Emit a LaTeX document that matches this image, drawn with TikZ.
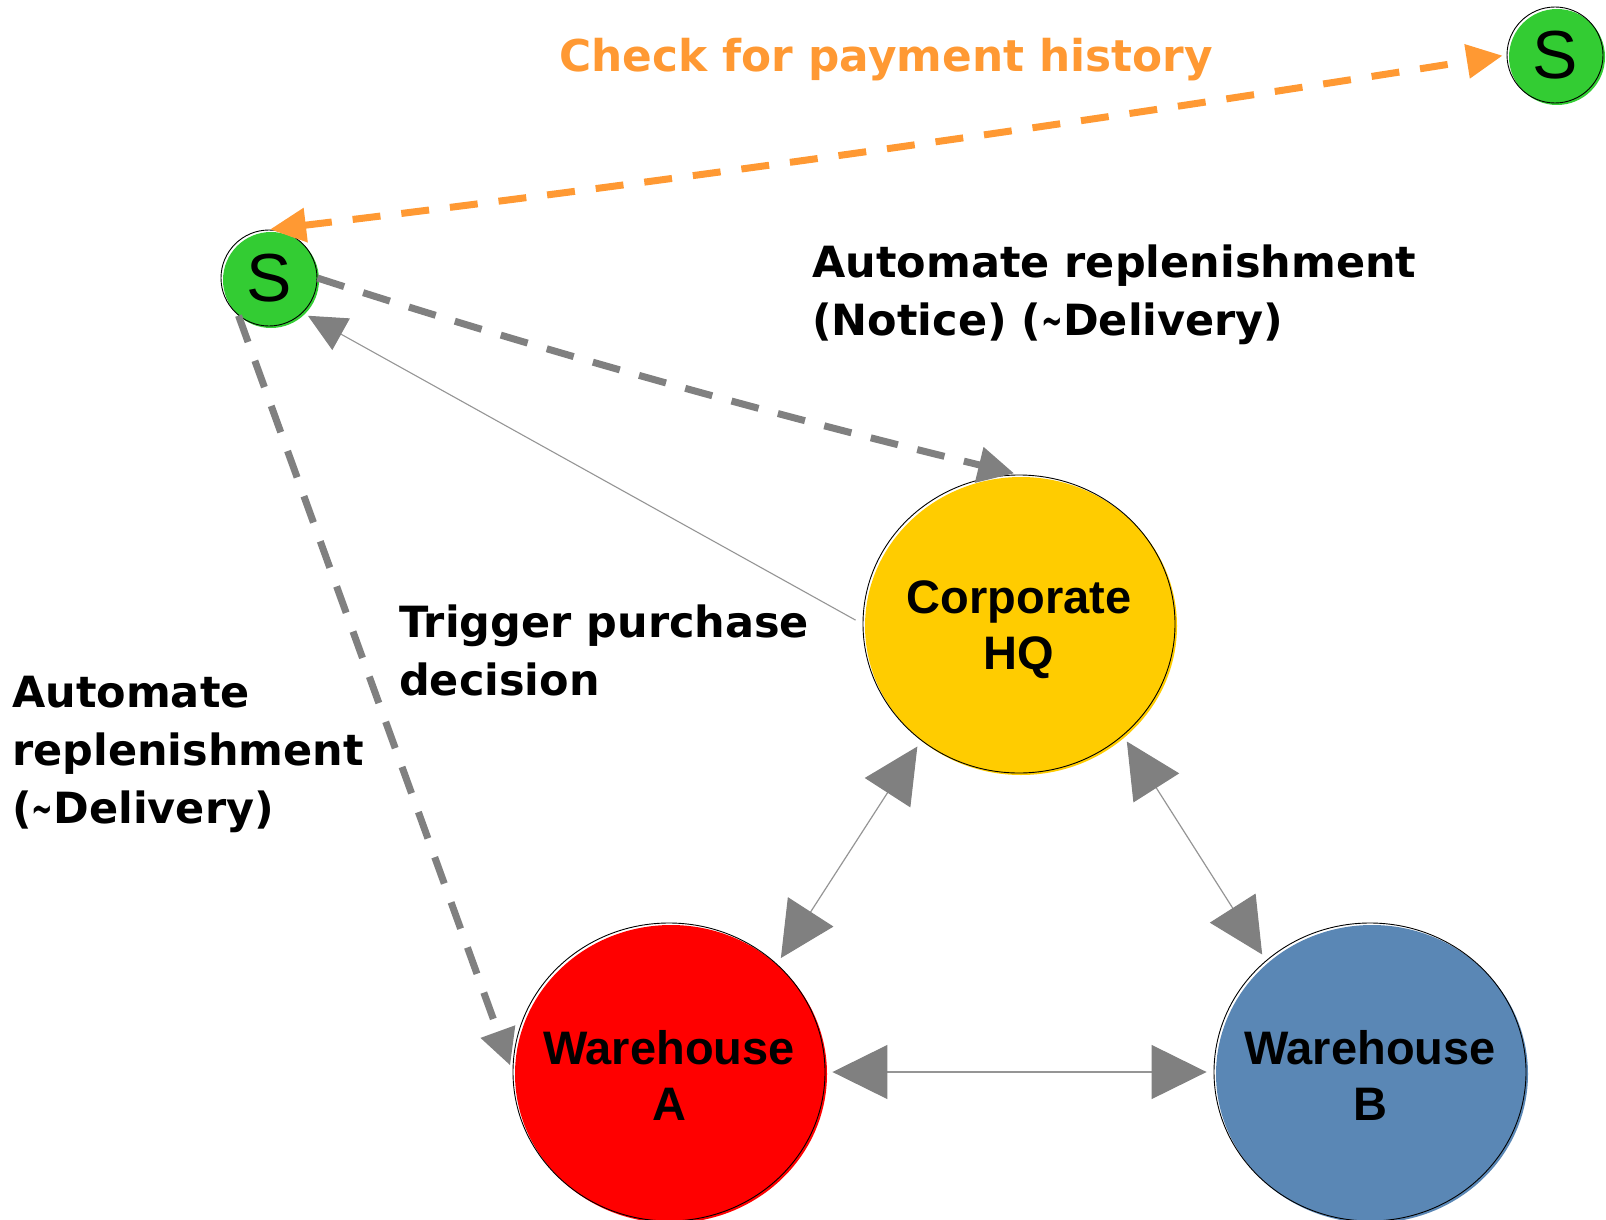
\documentclass[tikz,border=0pt]{standalone}
\usepackage{fontspec}
\setmainfont{Liberation Sans}
\newfontfamily\lblfont{DejaVu Sans}
\usetikzlibrary{arrows.meta,shapes.geometric}
\definecolor{hqyellow}{HTML}{FFCC00}
\definecolor{whred}{HTML}{FF0000}
\definecolor{whblue}{HTML}{5A87B5}
\definecolor{sgreen}{HTML}{33CC33}
\definecolor{orangeline}{HTML}{FF9933}
\definecolor{arrowgray}{HTML}{808080}
\definecolor{linegray}{HTML}{959595}
\newcommand{\narrowtilde}{\scalebox{0.6}[1]{\textasciitilde}}
\begin{document}
\begin{tikzpicture}[x=1pt,y=-1pt,
  blob/.style={draw=black, line width=0.9pt,
    preaction={fill=#1, transform canvas={shift={(2pt,-2pt)}}}},
  bigblob/.style={ellipse, minimum width=312pt, minimum height=298pt, inner xsep=-30pt, inner ysep=0pt,
    font=\fontsize{47}{56}\selectfont\bfseries, align=center},
  smallblob/.style={circle, inner sep=0pt, minimum size=96pt, font=\fontsize{68}{68}\selectfont},
  lbl/.style={font=\lblfont\bfseries\fontsize{43}{58}\selectfont, inner sep=0pt, anchor=base west},
  bigarrow/.style={draw=linegray, line width=1.2pt, {Triangle[length=55pt,width=54pt,color=arrowgray]}-{Triangle[length=55pt,width=54pt,color=arrowgray]},
    shorten <=7pt, shorten >=7pt},
  graydash/.style={draw=arrowgray, line width=7pt, dash pattern=on 28pt off 20pt,
    -{Triangle[length=36pt,width=35pt,color=arrowgray]}},
  orangedash/.style={draw=orangeline, line width=7pt, dash pattern=on 28pt off 21pt,
    {Triangle[length=36pt,width=33pt,color=orangeline]}-{Triangle[length=36pt,width=33pt,color=orangeline]}},
  thinarrow/.style={draw=linegray, line width=1.1pt, -{Triangle[length=38pt,width=36pt,color=arrowgray]}}
]
\useasboundingbox (0,0) rectangle (1606,1220);

% nodes
\node[blob=hqyellow, bigblob] (hq) at (1019,624) {\rule{0pt}{45pt}Corporate\\HQ};
\node[blob=whred, bigblob] (wa) at (669,1072) {\rule{0pt}{40pt}Warehouse\\A};
\node[blob=whblue, bigblob] (wb) at (1370,1072) {\rule{0pt}{40pt}Warehouse\\B};
\node[blob=sgreen, smallblob] (s1) at (1555,55) {S};
\node[blob=sgreen, smallblob] (s2) at (269,278) {S};

% labels
\node[lbl, text=orangeline, font=\lblfont\bfseries\fontsize{43.8}{58}\selectfont] (chk) at (559,72) {Check for payment history};
\node[lbl] (lblnotice) at (812,277) {\vtop{\hbox{Automate replenishment}\hbox{(Notice) (\narrowtilde Delivery)}}};
\node[lbl] (lbltrigger) at (399,637) {\vtop{\hbox{Trigger purchase}\hbox{decision}}};
\node[lbl] (lblleft) at (12,707) {\vtop{\hbox{Automate}\hbox{replenishment}\hbox{(\narrowtilde Delivery)}}};

% connectors
\draw[bigarrow] (hq.-130) -- (wa.45);
\draw[bigarrow] (hq.-47) -- (wb.133);
\draw[bigarrow] (wa.east) -- (wb.west);
\draw[thinarrow, shorten <=8pt, shorten >=6pt] (hq.west) -- (s2.-46);
\draw[orangedash, shorten <=1pt, shorten >=4pt] (s2.north) .. controls (682,180) and (1094,121) .. (s1.west);
\draw[graydash, shorten >=5pt] (s2.east) .. controls (549,353) and (782,417) .. (hq.north);
\draw[graydash, shorten >=7pt] (s2.231) -- (wa.west);
\end{tikzpicture}
\end{document}
